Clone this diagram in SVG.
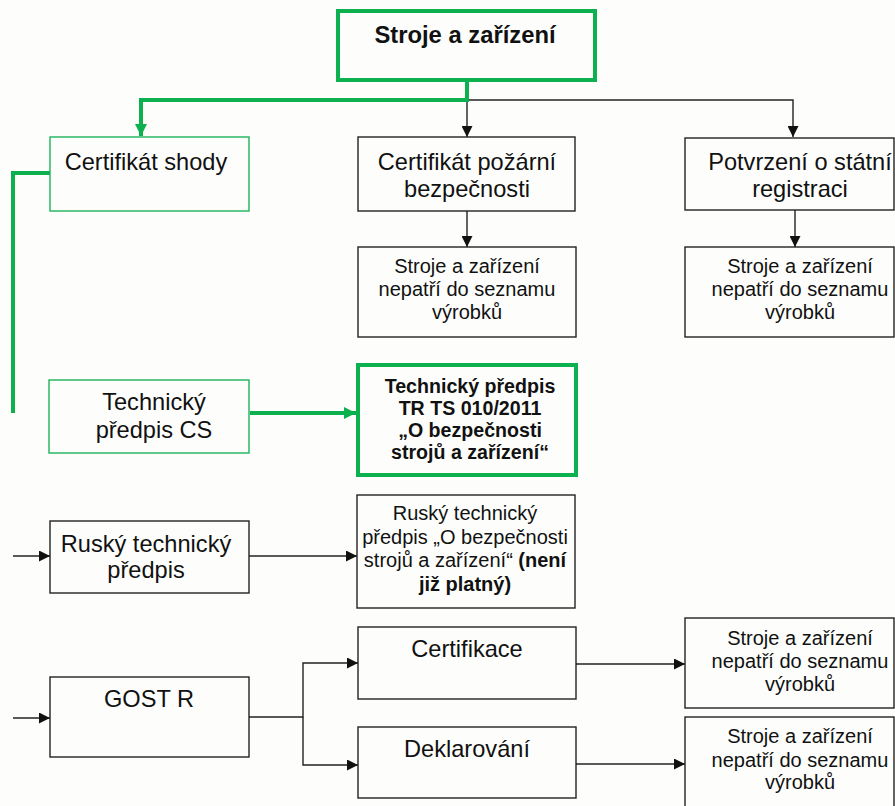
<svg xmlns="http://www.w3.org/2000/svg" width="895" height="806" viewBox="0 0 895 806">
<defs>
<style>
text{font-family:"Liberation Sans",Arial,sans-serif;fill:#111;text-anchor:middle}
.t22{font-size:23.6px}
.t19{font-size:20px}
.b{font-weight:bold}
.box{fill:none;stroke:#222;stroke-width:1.4}
.gthin{fill:none;stroke:#1db35a;stroke-width:1.4}
.gthick{fill:none;stroke:#0cb04f;stroke-width:4}
.ln{fill:none;stroke:#222;stroke-width:1.4}
.gl{fill:none;stroke:#0cb04f;stroke-width:4}
</style>
<marker id="ah" viewBox="0 0 10 10" refX="10" refY="5" markerWidth="11" markerHeight="11" markerUnits="userSpaceOnUse" orient="auto"><path d="M0,0 L10,5 L0,10 z" fill="#111"/></marker>
<marker id="gah" viewBox="0 0 10 10" refX="10" refY="5" markerWidth="12" markerHeight="13" markerUnits="userSpaceOnUse" orient="auto"><path d="M0,0 L10,5 L0,10 z" fill="#0cb04f"/></marker>
</defs>
<rect width="895" height="806" fill="#fdfefc"/>

<g id="connectors">
<path class="ln" d="M467,100 H793 V137" marker-end="url(#ah)"/>
<path class="ln" d="M467,100 V137" marker-end="url(#ah)"/>
<path class="gl" d="M467,81 V100 H141 V136" marker-end="url(#gah)"/>
<path class="ln" d="M467,211 V247" marker-end="url(#ah)"/>
<path class="ln" d="M795,210 V247" marker-end="url(#ah)"/>
<path class="gl" d="M50,173 H13 V413"/>
<path class="gl" d="M250,413 H356" marker-end="url(#gah)"/>
<path class="ln" d="M13,556 H50" marker-end="url(#ah)"/>
<path class="ln" d="M249,556 H357" marker-end="url(#ah)"/>
<path class="ln" d="M13,718 H50" marker-end="url(#ah)"/>
<path class="ln" d="M249,717 H303 V663 H358" marker-end="url(#ah)"/>
<path class="ln" d="M303,717 V765 H358" marker-end="url(#ah)"/>
<path class="ln" d="M576,664 H685" marker-end="url(#ah)"/>
<path class="ln" d="M576,764 H685" marker-end="url(#ah)"/>
</g>

<g id="n-top">
<rect class="gthick" x="338" y="11" width="257" height="69"/>
<text class="b" x="465" y="43" style="font-size:23.8px">Stroje a zařízení</text>
</g>

<g id="n-shoda">
<rect class="gthin" x="50" y="137" width="199" height="74"/>
<text class="t22" x="146" y="170">Certifikát shody</text>
</g>

<g id="n-pozar">
<rect class="box" x="358" y="137" width="217" height="74"/>
<text class="t22" x="467" y="170">Certifikát požární</text>
<text class="t22" x="467" y="197">bezpečnosti</text>
</g>

<g id="n-potvrzeni">
<rect class="box" x="685" y="138" width="209" height="72"/>
<text class="t22" x="800" y="170">Potvrzení o státní</text>
<text class="t22" x="800" y="197">registraci</text>
</g>

<g id="n-pozar-sub">
<rect class="box" x="358" y="247" width="218" height="90"/>
<text class="t19" x="467" y="273">Stroje a zařízení</text>
<text class="t19" x="467" y="296">nepatří do seznamu</text>
<text class="t19" x="467" y="319">výrobků</text>
</g>

<g id="n-potvrzeni-sub">
<rect class="box" x="685" y="247" width="209" height="90"/>
<text class="t19" x="800" y="273">Stroje a zařízení</text>
<text class="t19" x="800" y="296">nepatří do seznamu</text>
<text class="t19" x="800" y="319">výrobků</text>
</g>

<g id="n-tpcs">
<rect class="gthin" x="49" y="380" width="200" height="73"/>
<text class="t22" x="154" y="410">Technický</text>
<text class="t22" x="154" y="438">předpis CS</text>
</g>

<g id="n-trts">
<rect class="gthick" x="358" y="365" width="218" height="110"/>
<text class="b" x="470" y="393" style="font-size:19.6px">Technický předpis</text>
<text class="b" x="470" y="415" style="font-size:19.6px">TR TS 010/2011</text>
<text class="b" x="470" y="437" style="font-size:19.6px">„O bezpečnosti</text>
<text class="b" x="470" y="459" style="font-size:19.6px">strojů a zařízení“</text>
</g>

<g id="n-rusky">
<rect class="box" x="50" y="521" width="199" height="72"/>
<text class="t22" x="146" y="552">Ruský technický</text>
<text class="t22" x="146" y="578">předpis</text>
</g>

<g id="n-rusky-sub">
<rect class="box" x="357" y="495" width="218" height="113"/>
<text class="t19" x="465" y="520">Ruský technický</text>
<text class="t19" x="465" y="544">předpis „O bezpečnosti</text>
<text class="t19" x="465" y="567">strojů a zařízení“ <tspan class="b">(není</tspan></text>
<text class="t19 b" x="465" y="591">již platný)</text>
</g>

<g id="n-gost">
<rect class="box" x="50" y="677" width="199" height="80"/>
<text class="t22" x="149" y="707">GOST R</text>
</g>

<g id="n-cert">
<rect class="box" x="358" y="627" width="218" height="72"/>
<text class="t22" x="467" y="657">Certifikace</text>
</g>

<g id="n-dekl">
<rect class="box" x="358" y="727" width="218" height="71"/>
<text class="t22" x="467" y="757">Deklarování</text>
</g>

<g id="n-cert-sub">
<rect class="box" x="685" y="618" width="209" height="90"/>
<text class="t19" x="800" y="645">Stroje a zařízení</text>
<text class="t19" x="800" y="668">nepatří do seznamu</text>
<text class="t19" x="800" y="691">výrobků</text>
</g>

<g id="n-dekl-sub">
<rect class="box" x="685" y="717" width="209" height="100"/>
<text class="t19" x="800" y="743">Stroje a zařízení</text>
<text class="t19" x="800" y="767">nepatří do seznamu</text>
<text class="t19" x="800" y="789">výrobků</text>
</g>
</svg>
